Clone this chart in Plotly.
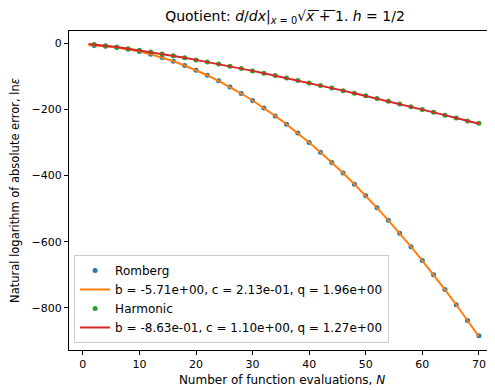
import plotly.graph_objects as go

# Data
N = [2, 4, 6, 8, 10, 12, 14, 16, 18, 20, 22, 24, 26, 28, 30, 32, 34, 36,
     38, 40, 42, 44, 46, 48, 50, 52, 54, 56, 58, 60, 62, 64, 66, 68, 70]
romberg = [-6.5, -8.9, -12.9, -18.3, -25.1, -33.5, -43.3, -54.5, -67.2, -81.3,
           -96.8, -113.7, -132.1, -151.9, -173.0, -195.6, -219.5, -244.9, -271.6,
           -299.7, -329.2, -360.2, -392.4, -426.0, -461.1, -497.5, -535.2, -574.3,
           -614.8, -656.6, -699.9, -744.4, -790.3, -837.6, -884.0]
harmonic = [-3.5, -7.3, -11.6, -16.3, -21.4, -26.7, -32.3, -38.1, -44.1, -50.3,
            -56.6, -63.1, -69.8, -76.6, -83.5, -90.6, -97.8, -105.1, -112.5,
            -120.0, -127.6, -135.3, -143.2, -151.0, -159.0, -167.1, -175.2, -183.5,
            -191.8, -200.2, -208.7, -217.3, -225.9, -234.6, -241.5]

N_fit = [1] + N
romberg_fit = [-5.9, -6.5, -8.9, -12.9, -18.3, -25.1, -33.5, -43.3, -54.5, -67.2, -81.3,
               -96.8, -113.7, -132.1, -151.9, -173.0, -195.6, -219.5, -244.9, -271.6,
               -299.7, -329.2, -360.2, -392.4, -426.0, -461.1, -497.5, -535.2, -574.3,
               -614.8, -656.6, -699.9, -744.4, -790.3, -837.6, -886.3]
harmonic_fit = [-2.0, -3.5, -7.3, -11.6, -16.3, -21.4, -26.7, -32.3, -38.1, -44.1, -50.3,
                -56.6, -63.1, -69.8, -76.6, -83.5, -90.6, -97.8, -105.1, -112.5,
                -120.0, -127.6, -135.3, -143.2, -151.0, -159.0, -167.1, -175.2, -183.5,
                -191.8, -200.2, -208.7, -217.3, -225.9, -234.6, -243.3]

romberg_label = "b = -5.71e+00, c = 2.13e-01, q = 1.96e+00"
harmonic_label = "b = -8.63e-01, c = 1.10e+00, q = 1.27e+00"

x_ticks = [0, 10, 20, 30, 40, 50, 60, 70]
y_ticks = [0, -200, -400, -600, -800]
y_tick_text = ["0", "\u2212200", "\u2212400", "\u2212600", "\u2212800"]

FONT = "DejaVu Sans"

fig = go.Figure()
fig.add_trace(go.Scatter(x=N, y=romberg, mode="markers", name="Romberg",
                         marker=dict(color="#1f77b4", size=5)))
fig.add_trace(go.Scatter(x=N_fit, y=romberg_fit, mode="lines", name=romberg_label,
                         line=dict(color="#ff7f0e", width=2)))
fig.add_trace(go.Scatter(x=N, y=harmonic, mode="markers", name="Harmonic",
                         marker=dict(color="#2ca02c", size=5)))
fig.add_trace(go.Scatter(x=N_fit, y=harmonic_fit, mode="lines", name=harmonic_label,
                         line=dict(color="#d62728", width=2)))

title_text = ("Quotient: <i>d</i>/<i>dx</i>|<sub><i>x</i> = 0</sub>"
              "√<i>x\u0305</i>\u00a0\u0305+\u0305\u00a0\u03051\u0305. <i>h</i> = 1/2")

axis_common = dict(showline=True, linecolor="black", linewidth=1, mirror=True,
                   ticks="outside", ticklen=4, tickcolor="black", showgrid=False,
                   zeroline=False, tickfont=dict(family=FONT, size=11, color="black"))

# The page body adds an 8px offset, so the figure is sized/margined to compensate.
W, H = 487, 382
fig.update_layout(
    width=W, height=H,
    margin=dict(l=61, r=0, t=23, b=40, autoexpand=False),
    paper_bgcolor="white", plot_bgcolor="white",
    font=dict(family=FONT, size=12, color="black"),
    title=dict(text=title_text, x=277 / W, xanchor="center", xref="container",
               y=1 - 8 / H, yanchor="middle", yref="container",
               font=dict(family=FONT, size=14, color="black")),
    xaxis=dict(range=[-2.45, 72.85], tickvals=x_ticks,
               title=dict(text="Number of function evaluations, <i>N</i>", standoff=5,
                          font=dict(family=FONT, size=12)),
               **axis_common),
    yaxis=dict(range=[-927, 37], tickvals=y_ticks, ticktext=y_tick_text,
               title=dict(text="Natural logarithm of absolute error, ln<i>ε</i>", standoff=14,
                          font=dict(family=FONT, size=11.5)),
               **axis_common),
    legend=dict(x=0.012, y=0.022, xanchor="left", yanchor="bottom",
                bgcolor="rgba(255,255,255,0.8)", bordercolor="#cccccc", borderwidth=1,
                font=dict(family=FONT, size=12), tracegroupgap=0, itemwidth=30),
    showlegend=True,
)

fig.write_html("out.html")
